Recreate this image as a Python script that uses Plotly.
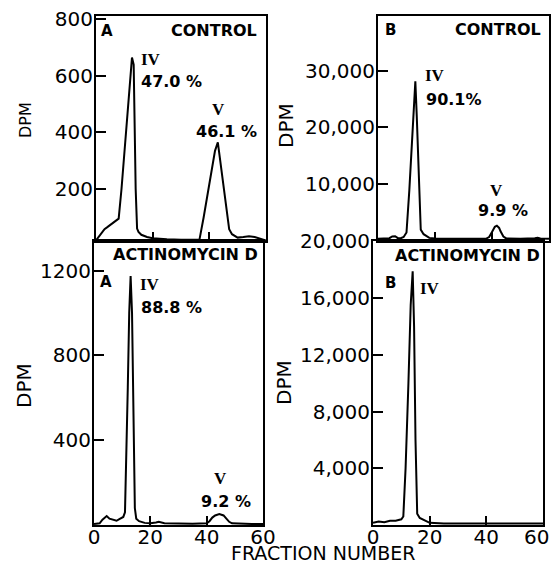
import plotly.graph_objects as go

# ---------------- data ----------------
# Panel A, control
a_ctrl_x = [0, 1, 2, 3, 4, 5, 6, 7, 8, 9, 10, 11, 12, 12.7, 13.3, 14, 14.5, 15, 16, 18, 20, 22, 25,
            30, 35, 36.5, 38, 40, 42, 43, 44, 45, 46, 47, 48, 50, 52, 54, 56, 58, 60]
a_ctrl_y = [18, 30, 45, 58, 65, 72, 78, 85, 95, 200, 330, 460, 600, 665, 640, 200, 60, 48, 38, 30, 26, 24, 22,
            20, 19, 20, 100, 215, 335, 365, 290, 205, 125, 58, 40, 28, 30, 33, 30, 24, 18]

# Panel B, control
b_ctrl_x = [0, 2, 4, 5, 6, 7, 8, 9, 10, 11, 12, 12.5, 13.1, 13.6, 14, 14.5, 15, 16, 17, 18, 20, 25,
            30, 35, 38, 39, 40, 41, 41.7, 42.5, 43, 44, 45, 50, 55, 56, 57, 60]
b_ctrl_y = [400, 420, 500, 800, 850, 500, 500, 700, 1500, 9000, 17500, 22500, 28100, 22000, 15000, 8000, 2000,
            1200, 800, 550, 450, 400, 400, 400, 420, 700, 1600, 2500, 2700, 2300, 1700, 800, 450, 400, 500,
            560, 450, 400]

# Panel A, actinomycin D
a_act_x = [0, 2, 3, 4.5, 5.5, 7, 8, 9, 10.4, 11, 11.5, 12, 12.5, 13, 13.5, 14, 14.5, 15, 16, 18, 20, 22,
           23, 25, 30, 35, 40, 41, 42, 43, 44.5, 46, 47, 48, 49, 52, 56, 60]
a_act_y = [5, 8, 25, 42, 30, 22, 20, 28, 38, 60, 300, 650, 1000, 1175, 1000, 500, 80, 30, 18, 10, 8, 12,
           15, 8, 6, 6, 8, 18, 35, 45, 52, 45, 30, 15, 8, 6, 5, 5]

# Panel B, actinomycin D
b_act_x = [0, 2, 4, 6, 8, 10, 10.7, 11.5, 12.5, 13.3, 14, 14.5, 15, 15.6, 16.5, 18, 19, 20, 25, 30, 40,
           50, 60]
b_act_y = [150, 250, 200, 300, 300, 400, 600, 4000, 10000, 15500, 17900, 14000, 6000, 800, 500, 350, 250,
           150, 100, 100, 100, 100, 100]

x_ticks = [0, 20, 40, 60]
x_tick_labels = ["0", "20", "40", "60"]
x_tick_labels_right = ["0", "20", "40", "60\u00a0\u00a0"]
tl_yticks = [200, 400, 600, 800]
tl_ylabels = ["200", "400", "600", "800"]
tr_yticks = [10000, 20000, 30000]
tr_ylabels = ["10,000", "20,000", "30,000"]
bl_yticks = [400, 800, 1200]
bl_ylabels = ["400", "800", "1200"]
br_yticks = [4000, 8000, 12000, 16000, 20000]
br_ylabels = ["4,000", "8,000", "12,000", "16,000", "20,000"]

# ---------------- figure ----------------
OFF = 8  # page body margin
W, H = 560 - 2 * OFF, 572 - 2 * OFF
FONT = "DejaVu Sans"


def px_x(p):
    return (p - OFF) / W


def px_y(p):
    return 1 - (p - OFF) / H


fig = go.Figure()
line = dict(color="black", width=2)
fig.add_trace(go.Scatter(x=a_ctrl_x, y=a_ctrl_y, mode="lines", line=line, xaxis="x", yaxis="y"))
fig.add_trace(go.Scatter(x=b_ctrl_x, y=b_ctrl_y, mode="lines", line=line, xaxis="x2", yaxis="y2"))
fig.add_trace(go.Scatter(x=a_act_x, y=a_act_y, mode="lines", line=line, xaxis="x3", yaxis="y3"))
fig.add_trace(go.Scatter(x=b_act_x, y=b_act_y, mode="lines", line=line, xaxis="x4", yaxis="y4"))

tickfont = dict(family=FONT, size=20, color="black")


def xax(dom, anchor, labels, text=x_tick_labels):
    return dict(domain=dom, anchor=anchor, range=[0, 60], tickvals=x_ticks, ticktext=text,
                ticks="inside", ticklen=9, tickwidth=2, tickcolor="black", showticklabels=labels,
                showline=True, linecolor="black", linewidth=2, mirror=True, showgrid=False,
                zeroline=False, tickfont=tickfont, fixedrange=True, automargin=False,
                ticklabelstandoff=-7, ticklabeloverflow="allow")


def yax(dom, anchor, rng, vals, labels):
    return dict(domain=dom, anchor=anchor, range=rng, tickvals=vals, ticktext=labels,
                ticks="inside", ticklen=10, tickwidth=2, tickcolor="black",
                showline=True, linecolor="black", linewidth=2, mirror=True, showgrid=False,
                zeroline=False, tickfont=tickfont, fixedrange=True, automargin=False,
                ticklabelstandoff=-3, ticklabeloverflow="allow")


top_dom = [px_y(241), px_y(16)]
bot_dom = [px_y(525), px_y(241)]

fig.update_layout(
    template="none",
    width=W, height=H, margin=dict(l=0, r=0, t=0, b=0, pad=0),
    paper_bgcolor="white", plot_bgcolor="white", showlegend=False,
    xaxis=xax([px_x(96), px_x(266)], "y", False),
    yaxis=yax(top_dom, "x", [16, 812], tl_yticks, tl_ylabels),
    xaxis2=xax([px_x(378), px_x(549)], "y2", False),
    yaxis2=yax(top_dom, "x2", [0, 39600], tr_yticks, tr_ylabels),
    xaxis3=xax([px_x(94), px_x(263)], "y3", True),
    yaxis3=yax(bot_dom, "x3", [0, 1340], bl_yticks, bl_ylabels),
    xaxis4=xax([px_x(373), px_x(543)], "y4", True, x_tick_labels_right),
    yaxis4=yax(bot_dom, "x4", [0, 20030], br_yticks, br_ylabels),
)

ann = []


def t(text, xref, yref, x, y, size=16, xanchor="center", family=FONT, angle=0):
    ann.append(dict(text=text, xref=xref, yref=yref, x=x, y=y, xanchor=xanchor, yanchor="middle",
                    showarrow=False, textangle=angle, font=dict(family=family, size=size, color="black")))


SERIF = "Liberation Serif"
# top-left
t("<b>A</b>", "x", "y", 1.0, 760, 15, "left")
t("<b>CONTROL</b>", "x", "y", 57.5, 760, 16, "right")
t("<b>IV</b>", "x", "y", 15.3, 657, 17, "left", SERIF)
t("<b>47.0 %</b>", "x", "y", 15.3, 579, 16, "left")
t("<b>V</b>", "x", "y", 43.1, 480, 17, "center", SERIF)
t("<b>46.1 %</b>", "x", "y", 45.9, 402, 16, "center")
# top-right
t("<b>B</b>", "x2", "y2", 1.6, 37200, 15, "left")
t("<b>CONTROL</b>", "x2", "y2", 57.9, 37200, 16, "right")
t("<b>IV</b>", "x2", "y2", 15.8, 29100, 17, "left", SERIF)
t("<b>90.1%</b>", "x2", "y2", 16.0, 24900, 16, "left")
t("<b>V</b>", "x2", "y2", 41.6, 8950, 17, "center", SERIF)
t("<b>9.9 %</b>", "x2", "y2", 43.9, 5440, 16, "center")
# bottom-left
t("<b>ACTINOMYCIN D</b>", "x3", "y3", 59.0, 1278, 16, "right")
t("<b>A</b>", "x3", "y3", 1.3, 1145, 15, "left")
t("<b>IV</b>", "x3", "y3", 15.6, 1134, 17, "left", SERIF)
t("<b>88.8 %</b>", "x3", "y3", 15.8, 1027, 16, "left")
t("<b>V</b>", "x3", "y3", 45.0, 220, 17, "center", SERIF)
t("<b>9.2 %</b>", "x3", "y3", 46.8, 111, 16, "center")
# bottom-right
t("<b>ACTINOMYCIN D</b>", "x4", "y4", 59.6, 19000, 16, "right")
t("<b>B</b>", "x4", "y4", 3.4, 17100, 15, "left")
t("<b>IV</b>", "x4", "y4", 15.9, 16700, 17, "left", SERIF)
# axis titles
t("DPM", "paper", "paper", px_x(26), px_y(120), 16, "center", FONT, -90)
t("DPM", "paper", "paper", px_x(286), px_y(126), 20, "center", FONT, -90)
t("DPM", "paper", "paper", px_x(24), px_y(386), 20, "center", FONT, -90)
t("DPM", "paper", "paper", px_x(284), px_y(383), 20, "center", FONT, -90)
t("FRACTION NUMBER", "paper", "paper", px_x(323), px_y(553), 19, "center", FONT)

fig.update_layout(annotations=ann)
fig.write_html("out.html")
